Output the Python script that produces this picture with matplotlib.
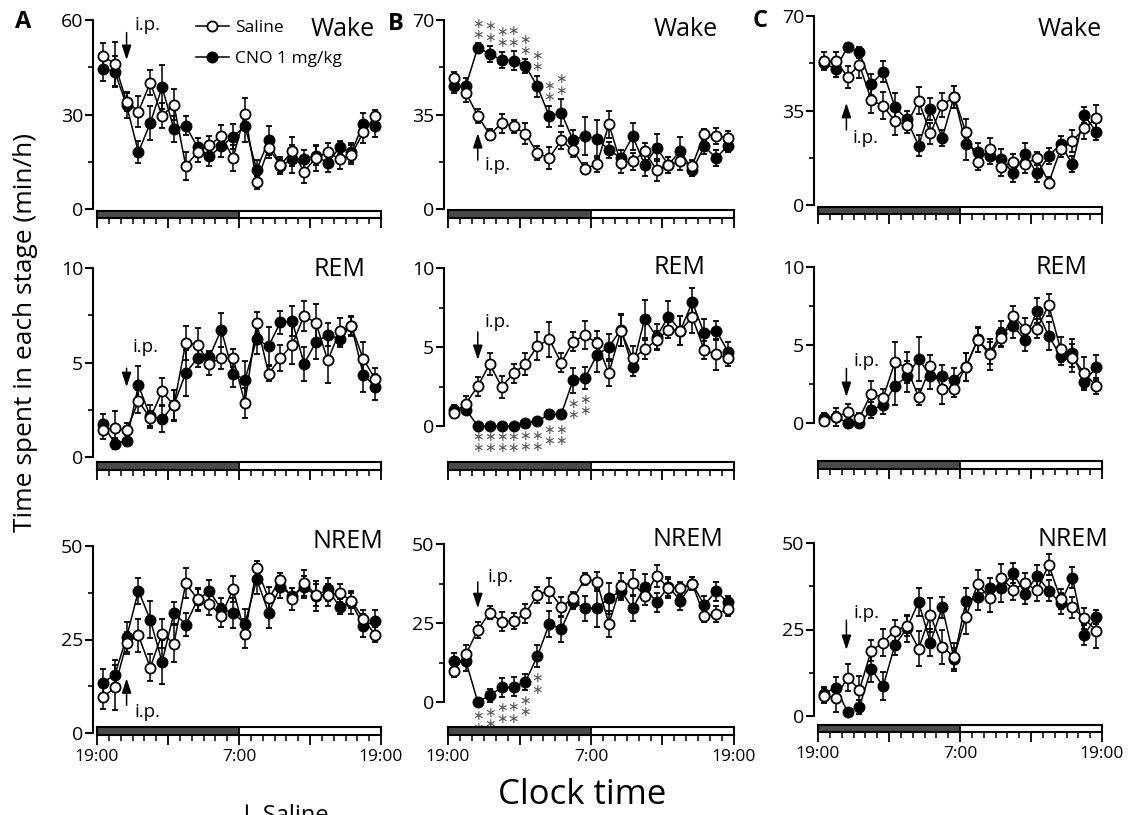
import matplotlib.pyplot as plt
from matplotlib.patches import Rectangle
from matplotlib.lines import Line2D
from matplotlib.ticker import MultipleLocator

plt.rcParams['font.family'] = ['Open Sans', 'DejaVu Sans']

W, H = 1132, 815

# hour bins, 19:00 -> 19:00
hours = [0.5, 1.5, 2.5, 3.5, 4.5, 5.5, 6.5, 7.5, 8.5, 9.5, 10.5, 11.5,
         12.5, 13.5, 14.5, 15.5, 16.5, 17.5, 18.5, 19.5, 20.5, 21.5, 22.5, 23.5]
xtick_labels = ['19:00', '', '7:00', '', '19:00']

# ---- A ----
a_wake_sal = [48.6, 46.1, 34.1, 30.9, 40.1, 29.6, 33.1, 13.7, 18.0, 20.2, 23.2, 16.2,
              30.2, 8.5, 19.3, 14.0, 18.3, 11.9, 16.2, 18.0, 15.8, 17.2, 24.3, 29.4]
a_wake_sal_sem = [4, 7, 3, 5, 4, 4, 5, 4.5, 3, 3, 3.5, 4, 5, 2, 3, 2.5, 4.5, 3.5, 4, 3, 3, 3, 3.5, 2]
a_wake_cno = [44.5, 43.6, 32.9, 18.0, 27.3, 38.7, 25.4, 26.4, 19.6, 16.7, 19.9, 23.0,
              26.2, 12.5, 21.8, 13.5, 15.8, 15.8, 16.9, 14.6, 19.6, 18.0, 27.0, 26.2]
a_wake_cno_sem = [4, 5, 4, 3.5, 5.5, 7, 4, 3, 3, 3, 3.5, 4, 5, 3, 4.5, 2.5, 4.5, 3, 3, 3, 2, 3, 3.5, 3.5]

a_rem_sal = [1.45, 1.53, 1.41, 2.95, 2.06, 3.47, 2.73, 6.03, 5.94, 4.94, 5.24, 5.24,
             2.86, 7.09, 4.41, 5.24, 5.94, 7.48, 7.09, 5.11, 6.65, 6.91, 5.19, 4.13]
a_rem_sal_sem = [0.5, 0.9, 0.4, 0.6, 0.4, 0.7, 0.8, 0.9, 0.9, 0.6, 0.6, 0.5,
                 0.8, 0.6, 0.4, 0.7, 1.0, 0.8, 1.0, 1.2, 0.7, 0.5, 0.9, 0.6]
a_rem_cno = [1.76, 0.71, 0.86, 3.79, 2.15, 2.01, 2.77, 4.44, 5.24, 5.29, 6.74, 4.41,
             4.09, 6.24, 5.86, 7.13, 7.18, 4.94, 6.07, 6.47, 6.24, 6.95, 4.36, 3.70]
a_rem_cno_sem = [0.5, 0.3, 0.3, 1.0, 0.6, 0.7, 0.8, 1.2, 0.5, 0.3, 0.9, 0.7,
                 1.0, 0.8, 1.0, 0.6, 0.8, 0.9, 0.9, 0.6, 0.4, 0.5, 0.9, 0.7]

a_nrem_sal = [9.5, 12.2, 24.1, 26.1, 17.5, 26.6, 23.9, 40.0, 35.8, 34.5, 31.4, 38.4,
              26.6, 44.0, 36.0, 40.9, 35.8, 40.2, 36.9, 36.9, 37.4, 35.4, 30.5, 26.3]
a_nrem_sal_sem = [3, 6, 3, 4.5, 3.5, 4, 5, 4, 3, 3, 3, 3.5, 4, 2, 3, 2, 3, 3.5, 3, 3, 2.5, 2, 2.5, 2]
a_nrem_cno = [13.5, 15.5, 25.6, 38.0, 30.3, 19.0, 32.1, 29.0, 35.6, 38.0, 33.1, 32.2,
              29.2, 41.1, 32.2, 39.1, 36.7, 39.1, 36.7, 38.4, 33.8, 34.9, 28.7, 29.9]
a_nrem_cno_sem = [3.5, 4, 4, 3.5, 5, 6, 3, 3, 3, 3, 3, 4, 4, 4, 4, 3, 2, 3, 4, 3, 2, 3, 3, 3]

# ---- B ----
b_wake_sal = [48.4, 43.1, 34.5, 27.5, 31.8, 30.6, 27.9, 20.7, 18.9, 25.4, 21.7, 14.9,
              16.6, 31.4, 17.0, 17.6, 21.3, 14.5, 16.4, 17.6, 16.1, 27.7, 27.1, 26.3]
b_wake_sal_sem = [2.5, 3.5, 2.5, 2, 3.5, 2.5, 4, 2.5, 4, 3, 2.5, 2,
                  3, 5, 3.5, 3, 3, 4, 3, 3, 2, 2, 3, 2.5]
b_wake_cno = [45.6, 45.6, 59.8, 57.4, 55.2, 55.0, 53.0, 45.4, 34.3, 35.7, 25.4, 27.1,
              25.9, 21.9, 18.9, 26.9, 16.4, 22.6, 16.4, 21.6, 14.3, 23.2, 18.9, 23.5]
b_wake_cno_sem = [2.5, 3, 1.5, 3, 3, 3.5, 2.5, 4, 4, 5, 4, 7,
                  7, 3, 3, 5, 4, 5, 3, 5, 2, 3, 3, 2.5]
b_wake_sig = [2, 3, 4, 5, 6, 7, 8, 9]

b_rem_sal = [0.83, 1.42, 2.52, 3.92, 2.48, 3.33, 3.92, 5.06, 5.49, 4.00, 5.34, 5.76,
             5.23, 3.33, 6.04, 4.28, 4.85, 5.44, 6.08, 6.04, 6.89, 4.81, 4.53, 4.28]
b_rem_sal_sem = [0.3, 0.5, 0.6, 0.7, 0.7, 0.6, 0.7, 0.9, 1.1, 0.6, 0.6, 0.9,
                 0.8, 0.8, 1.0, 0.8, 0.6, 0.6, 0.5, 0.9, 1.0, 0.6, 1.0, 0.5]
b_rem_cno = [1.04, 1.04, 0.0, 0.0, 0.0, 0.0, 0.19, 0.30, 0.74, 0.74, 2.90, 3.05,
             4.49, 5.02, 6.08, 3.75, 6.78, 5.66, 6.93, 6.04, 7.84, 5.87, 6.04, 4.70]
b_rem_cno_sem = [0.3, 0.3, 0, 0, 0, 0, 0.1, 0.2, 0.3, 0.3, 0.8, 0.7,
                 1.1, 0.8, 1.0, 0.6, 1.2, 0.8, 1.0, 0.9, 0.9, 0.9, 0.6, 0.6]
b_rem_sig = [2, 3, 4, 5, 6, 7, 8, 9, 10, 11]

b_nrem_sal = [9.9, 15.1, 22.8, 28.3, 25.4, 25.6, 28.1, 33.9, 35.2, 30.2, 32.8, 38.9,
              38.1, 24.7, 36.8, 37.8, 33.6, 40.0, 36.0, 36.0, 37.4, 27.2, 27.9, 29.3]
b_nrem_sal_sem = [2, 3, 2.5, 2, 3, 2.5, 3, 2.5, 4, 3, 2, 2,
                  3, 4, 4, 4, 3, 3.5, 3, 2, 2, 2, 2.5, 2]
b_nrem_cno = [12.9, 12.9, 0.0, 2.1, 4.6, 4.8, 6.4, 14.5, 24.7, 23.0, 31.5, 29.7,
              29.7, 32.8, 35.2, 29.7, 36.5, 31.5, 36.5, 32.1, 37.4, 30.7, 35.0, 31.5]
b_nrem_cno_sem = [2.5, 3, 1, 2, 3, 3, 2.5, 3.5, 4, 4, 2, 4,
                  6, 5, 3, 4, 4, 3, 3, 3, 2, 3, 3, 2]
b_nrem_sig = [2, 3, 4, 5, 6, 7]

# ---- C ----
c_wake_sal = [53.5, 53.3, 47.5, 51.9, 38.9, 36.7, 31.1, 29.6, 38.6, 26.5, 37.0, 40.1,
              26.9, 15.8, 20.7, 14.2, 16.0, 15.2, 17.3, 8.3, 20.6, 23.7, 28.4, 32.1]
c_wake_sal_sem = [3, 3.5, 4, 5, 5, 5, 5, 3, 5, 4, 4.5, 4, 5, 3, 4, 3.5, 3, 3.5, 2.5, 2, 3, 4, 4, 5]
c_wake_cno = [52.5, 50.4, 58.6, 56.5, 44.7, 49.4, 36.4, 31.7, 22.0, 35.6, 24.9, 40.1,
              22.6, 19.8, 18.1, 16.9, 11.7, 18.9, 11.7, 18.1, 22.5, 15.1, 33.3, 27.2]
c_wake_cno_sem = [2.5, 3, 1.5, 2, 4, 4, 5, 3, 4, 4, 3, 4, 6, 3, 3, 4, 3, 4, 3, 3, 3, 3, 3, 3]

c_rem_sal = [0.11, 0.39, 0.69, 0.32, 1.89, 1.61, 3.91, 3.54, 1.67, 3.65, 2.19, 2.19,
             3.61, 5.32, 4.40, 5.47, 6.87, 6.05, 6.05, 7.55, 4.72, 4.18, 3.22, 2.36]
c_rem_sal_sem = [0.2, 0.6, 0.5, 0.3, 0.8, 0.6, 1.3, 1.0, 0.5, 0.7, 1.0, 0.5,
                 0.9, 0.8, 1.0, 0.6, 0.6, 0.7, 0.6, 0.7, 0.8, 0.9, 1.0, 0.5]
c_rem_cno = [0.32, 0.39, 0.0, 0.0, 0.82, 1.18, 2.36, 3.00, 4.12, 3.00, 3.00, 2.75,
             3.61, 5.36, 4.51, 5.75, 6.22, 5.32, 7.19, 5.58, 4.29, 4.51, 2.62, 3.58]
c_rem_cno_sem = [0.3, 0.3, 0, 0, 0.5, 0.6, 1.2, 1.0, 1.4, 0.8, 0.7, 0.8,
                 0.9, 0.8, 0.7, 0.8, 0.8, 0.7, 0.8, 0.9, 0.6, 0.9, 0.5, 0.8]

c_nrem_sal = [5.7, 5.3, 11.1, 7.6, 18.9, 21.2, 24.7, 26.0, 19.5, 29.2, 20.0, 17.1,
              28.7, 38.2, 34.0, 39.8, 36.5, 38.4, 36.3, 43.7, 33.8, 31.4, 28.2, 24.7]
c_nrem_sal_sem = [2, 4, 4, 4, 3, 4, 3, 3, 5, 5, 5, 4, 5, 4, 4, 4, 3, 3, 3, 3, 3, 3, 3, 5]
c_nrem_cno = [6.5, 8.2, 1.2, 2.6, 13.7, 8.6, 20.5, 25.3, 32.9, 21.2, 31.4, 16.6,
              33.1, 34.5, 36.9, 36.9, 41.3, 35.3, 40.6, 36.2, 32.6, 40.0, 23.4, 28.7]
c_nrem_cno_sem = [2, 3, 1, 2, 4, 4, 3, 4, 4, 4, 3, 3, 4, 4, 3, 4, 3, 3, 3, 3, 3, 3, 3, 2]

# ---- layout (pixels) ----
col_x = {'A': (97, 381), 'B': (448, 734), 'C': (818, 1102)}
panels = [
    # col, stage, ymax, (ytop, y0, bar_top, bar_bot), sal, sal_sem, cno, cno_sem, sig, sig_dir,
    # (arrow_x, tail, head, text_x, text_y), title (x_right, y)
    ('A', 'Wake', 60, (20, 209, 211, 218), a_wake_sal, a_wake_sal_sem, a_wake_cno, a_wake_cno_sem,
     [], 0, (2.5, 56, 47.3, 3.2, 58.4), (375, 29)),
    ('B', 'Wake', 70, (20, 209, 210, 218), b_wake_sal, b_wake_sal_sem, b_wake_cno, b_wake_cno_sem,
     b_wake_sig, 1, (2.5, 18.1, 28.1, 3.1, 16.3), (718, 30)),
    ('C', 'Wake', 70, (16, 205, 207, 214), c_wake_sal, c_wake_sal_sem, c_wake_cno, c_wake_cno_sem,
     [], 0, (2.4, 27.8, 37.8, 2.9, 24.8), (1102, 30)),
    ('A', 'REM', 10, (268, 457, 462, 470), a_rem_sal, a_rem_sal_sem, a_rem_cno, a_rem_cno_sem,
     [], 0, (2.5, 4.7, 3.7, 3.0, 5.8), (365, 270)),
    ('B', 'REM', 10, (268, 426, 462, 470), b_rem_sal, b_rem_sal_sem, b_rem_cno, b_rem_cno_sem,
     b_rem_sig, -1, (2.5, 5.95, 4.18, 3.1, 6.6), (705, 268)),
    ('C', 'REM', 10, (267, 423, 461, 469), c_rem_sal, c_rem_sal_sem, c_rem_cno, c_rem_cno_sem,
     [], 0, (2.4, 3.5, 1.67, 3.0, 4.0), (1087, 268)),
    ('A', 'NREM', 50, (546, 733, 727, 735), a_nrem_sal, a_nrem_sal_sem, a_nrem_cno, a_nrem_cno_sem,
     [], 0, (2.5, 7.4, 14.6, 3.2, 5.5), (383, 542)),
    ('B', 'NREM', 50, (544, 702, 727, 735), b_nrem_sal, b_nrem_sal_sem, b_nrem_cno, b_nrem_cno_sem,
     b_nrem_sig, -1, (2.5, 38.0, 29.7, 3.3, 39.6), (723, 540)),
    ('C', 'NREM', 50, (543, 716, 725, 732), c_nrem_sal, c_nrem_sal_sem, c_nrem_cno, c_nrem_cno_sem,
     [], 0, (2.4, 27.7, 19.1, 3.0, 29.8), (1108, 540)),
]


def px_box(l, r, t, b):
    return [l / W, 1 - b / H, (r - l) / W, (b - t) / H]


fig = plt.figure(figsize=(W / 100, H / 100), dpi=100)

for col, stage, ymax, (ytop, y0, bt, bb), sal, sal_e, cno, cno_e, sig, sdir, ip, tpos in panels:
    l, r = col_x[col]
    ax = fig.add_axes(px_box(l, r, ytop, y0))
    ax.patch.set_visible(False)
    ax.set_xlim(0, 24)
    ax.set_ylim(0, ymax)
    for s in ['top', 'right', 'bottom']:
        ax.spines[s].set_visible(False)
    ax.spines['left'].set_position(('outward', 3))
    ax.spines['left'].set_linewidth(1.5)
    ax.set_xticks([])
    ax.yaxis.set_major_locator(MultipleLocator(ymax / 2))
    ax.yaxis.set_minor_locator(MultipleLocator(ymax / 4))
    ax.tick_params(axis='y', which='major', length=6, width=1.5, labelsize=14, pad=1)
    ax.tick_params(axis='y', which='minor', length=3.5, width=1.2)

    for vals, errs, face, z in [(cno, cno_e, 'black', 3), (sal, sal_e, 'white', 4)]:
        cont = ax.errorbar(hours, vals, yerr=errs, fmt='-o', color='black', mfc=face, mec='black',
                           ms=7.3, mew=1.3, lw=1.1, elinewidth=1.1, capsize=2.5, capthick=1.1,
                           zorder=z)
        for art in cont.get_children():
            art.set_clip_on(False)

    for i in sig:
        if sdir > 0:
            y = cno[i] + cno_e[i]
            ax.annotate('\u2217\n\u2217', xy=(hours[i], y), xytext=(0, 1), textcoords='offset points',
                        ha='center', va='bottom', fontsize=10, linespacing=0.75, color='#555555',
                        family='DejaVu Sans', annotation_clip=False)
        else:
            y = cno[i] - cno_e[i]
            ax.annotate('\u2217\n\u2217', xy=(hours[i], y), xytext=(0, -3), textcoords='offset points',
                        ha='center', va='top', fontsize=10, linespacing=0.75, color='#555555',
                        family='DejaVu Sans', annotation_clip=False)

    ax_x, tail, head, tx, ty = ip
    ax.annotate('', xy=(ax_x, head), xytext=(ax_x, tail), annotation_clip=False,
                arrowprops=dict(arrowstyle='-|>,head_length=0.55,head_width=0.18',
                                color='black', lw=1.1, mutation_scale=16, shrinkA=0, shrinkB=0))
    ax.text(tx, ty, 'i.p.', fontsize=13.5, ha='left', va='center', clip_on=False)

    fig.text(tpos[0] / W, 1 - tpos[1] / H, stage, fontsize=18, ha='right', va='center')

    # light/dark bar
    bx = fig.add_axes(px_box(l, r, bt, bb))
    bx.set_xlim(0, 24)
    bx.set_ylim(0, 1)
    bx.add_patch(Rectangle((0, 0), 12, 1, facecolor='#4a4a4a', edgecolor='none'))
    bx.axvline(12, color='black', lw=1.3)
    for s in bx.spines.values():
        s.set_linewidth(1.5)
    bx.set_yticks([])
    bx.set_xticks([0, 6, 12, 18, 24])
    bx.xaxis.set_minor_locator(MultipleLocator(1))
    bx.tick_params(axis='x', which='major', length=7, width=1.3, labelsize=12.5, pad=3)
    bx.tick_params(axis='x', which='minor', length=4, width=1.1)
    if stage == 'NREM':
        bx.set_xticklabels(xtick_labels)
    else:
        bx.set_xticklabels([])

# legend
handles = [Line2D([], [], color='black', marker='o', mfc='white', mec='black', ms=7.3, mew=1.3, lw=1.1),
           Line2D([], [], color='black', marker='o', mfc='black', mec='black', ms=7.3, mew=1.3, lw=1.1)]
fig.legend(handles, ['Saline', 'CNO 1 mg/kg'], loc='upper left', bbox_to_anchor=(196 / W, 1 - 20 / H),
           frameon=False, fontsize=12.5, handlelength=1.9, handletextpad=0.35, labelspacing=0.85,
           borderpad=0, borderaxespad=0)

for letter, (x, y) in {'A': (23, 22), 'B': (396, 24), 'C': (760, 21)}.items():
    fig.text(x / W, 1 - y / H, letter, fontsize=17, fontweight='bold', ha='center', va='center')

fig.text(26 / W, 1 - 332 / H, 'Time spent in each stage (min/h)', rotation=90,
         ha='center', va='center', fontsize=19)
fig.text(582 / W, 1 - 795 / H, 'Clock time', ha='center', va='center', fontsize=25)
fig.text(237 / W, 1 - 822 / H, '\u2193 Saline', ha='left', va='baseline', fontsize=17)

fig.savefig('out.png', dpi=100)
